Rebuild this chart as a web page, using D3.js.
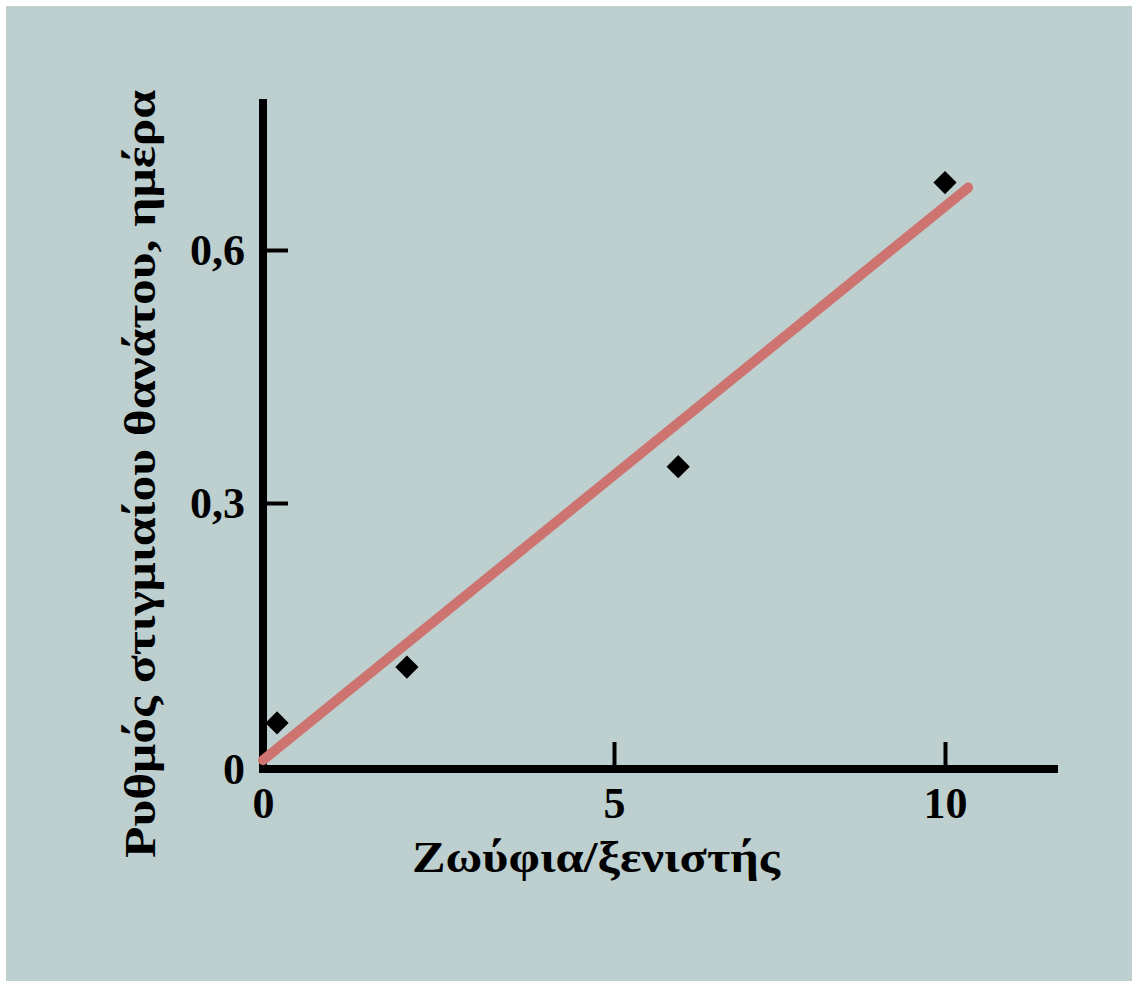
<!doctype html>
<html>
  <head>
    <meta charset="utf-8">
    <title>Ρυθμός στιγμιαίου θανάτου</title>
    <script src="https://cdnjs.cloudflare.com/ajax/libs/d3/7.8.5/d3.min.js"></script>
    <style>
      body { margin: 0; background: #ffffff; }
      svg { display: block; }
      text { font-family: "Liberation Serif", "Times New Roman", serif; font-weight: bold; fill: #000; }
    </style>
  </head>
  <body>
    <div id="chart"></div>
    <script>
      // measured points (parasites per host vs instantaneous death rate)
      const hostLoad = [0.2, 2.05, 5.97, 10];
      const deathRate = [0.052, 0.115, 0.343, 0.68];

      // fitted line, ends as drawn
      const fitX = [0, 10.35];
      const fitY = [0.01, 0.674];

      const xTicks = [0, 5, 10];
      const yTicks = [0, 0.3, 0.6];

      const width = 1132, height = 981;

      const svg = d3.select('#chart')
        .append('svg')
        .attr('width', width)
        .attr('height', height);

      svg.append('rect')
        .attr('x', 6).attr('y', 6)
        .attr('width', width - 6).attr('height', height - 6)
        .attr('fill', '#bdcfce');

      // the original drawing is not quite evenly spaced, so piecewise scales
      const x = d3.scaleLinear().domain(xTicks).range([263, 614, 945]);
      const y = d3.scaleLinear().domain(yTicks).range([769, 503, 250]);

      const fmt = d => d === 0 ? '0' : d3.format('.1f')(d).replace('.', ',');

      // y axis ticks + labels
      const yAxis = svg.append('g')
        .attr('transform', `translate(${x(0)},0)`)
        .call(d3.axisLeft(y).tickValues(yTicks).tickFormat(fmt).tickSize(-25).tickPadding(18));

      // x axis ticks + labels
      const xAxis = svg.append('g')
        .attr('transform', `translate(0,${y(0)})`)
        .call(d3.axisBottom(x).tickValues(xTicks).tickFormat(d3.format('d')).tickSize(-27).tickPadding(18));

      [yAxis, xAxis].forEach(g => {
        g.select('.domain').remove();
        g.selectAll('.tick line').attr('stroke', '#000').attr('stroke-width', 4);
        g.selectAll('.tick text')
          .attr('font-size', 44)
          .attr('font-family', '"Liberation Serif", serif')
          .attr('font-weight', 'bold')
          .attr('fill', '#000');
      });
      yAxis.selectAll('.tick').filter(d => d === 0).select('line').remove();
      xAxis.selectAll('.tick').filter(d => d === 0).select('line').remove();

      // main axis lines
      svg.append('line')
        .attr('x1', x(0)).attr('x2', x(0))
        .attr('y1', 99).attr('y2', y(0) + 4)
        .attr('stroke', '#000').attr('stroke-width', 8);
      svg.append('line')
        .attr('x1', x(0) - 4).attr('x2', 1058)
        .attr('y1', y(0)).attr('y2', y(0))
        .attr('stroke', '#000').attr('stroke-width', 8);

      // regression line
      svg.append('path')
        .datum(d3.zip(fitX, fitY))
        .attr('d', d3.line().x(d => x(d[0])).y(d => y(d[1])))
        .attr('fill', 'none')
        .attr('stroke', '#cd7470')
        .attr('stroke-width', 10)
        .attr('stroke-linecap', 'round');

      // data points as diamonds
      svg.selectAll('path.pt')
        .data(d3.zip(hostLoad, deathRate))
        .join('path')
        .attr('class', 'pt')
        .attr('d', d3.symbol(d3.symbolSquare, 270))
        .attr('transform', d => `translate(${x(d[0])},${y(d[1])}) rotate(45)`)
        .attr('fill', '#000');

      // axis titles
      svg.append('text')
        .attr('x', 596).attr('y', 872)
        .attr('text-anchor', 'middle')
        .attr('font-size', 44)
        .attr('textLength', 368)
        .attr('lengthAdjust', 'spacingAndGlyphs')
        .text('Ζωύφια/ξενιστής');

      svg.append('text')
        .attr('transform', 'translate(155,474) rotate(-90)')
        .attr('text-anchor', 'middle')
        .attr('font-size', 44)
        .attr('textLength', 768)
        .attr('lengthAdjust', 'spacingAndGlyphs')
        .text('Ρυθμός στιγμιαίου θανάτου, ημέρα');
    </script>
  </body>
</html>
